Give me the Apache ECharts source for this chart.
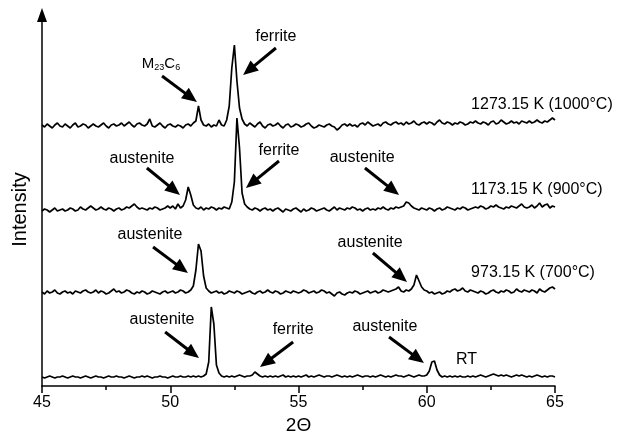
<!DOCTYPE html>
<html>
<head>
<meta charset="utf-8">
<script src="https://cdn.jsdelivr.net/npm/echarts@6/dist/echarts.min.js"></script>
<style>
html,body{margin:0;padding:0;background:#fff;}
#c{width:620px;height:440px;}
</style>
</head>
<body>
<div id="c"></div>
<script>
// 2θ sampling positions: 45.0 ... 65.0 in 0.1° steps
const twoTheta = [];
for (let i = 0; i <= 200; i++) twoTheta.push(+(45 + i * 0.1).toFixed(1));

const xTicks = [45, 50, 55, 60, 65];

// Intensities (arbitrary units, already vertically offset as plotted)
const int1273 = [
 261,259,262,260,258,261,263,260,259,262,
 260,258,261,263,259,260,262,261,258,260,
 262,260,259,261,263,260,258,261,262,260,
 261,263,260,262,264,261,259,262,263,261,
 260,262,267,260,259,261,263,260,258,261,
 262,260,259,261,260,258,261,262,260,263,
 265,280,266,261,260,262,259,261,260,266,
 261,260,266,280,318,341,305,278,267,262,
 260,263,261,259,262,264,260,258,261,262,
 260,261,263,260,258,261,262,259,260,262,
 261,259,260,262,263,260,258,259,261,260,
 259,261,262,260,259,256,258,261,262,260,
 262,260,261,259,262,263,261,264,262,260,
 261,262,260,263,264,262,261,263,264,262,
 263,261,264,262,263,265,262,261,263,264,
 262,264,263,261,264,266,263,262,264,263,
 261,263,262,264,263,261,262,264,263,265,
 263,262,264,263,261,264,265,262,263,266,
 264,262,263,265,263,264,262,265,264,263,
 265,263,264,266,264,263,265,264,266,268,
 266];

const int1173 = [
 175,177,176,174,176,178,175,176,177,175,
 176,178,177,175,176,179,177,176,178,180,
 178,176,177,179,177,176,178,177,175,177,
 178,176,177,179,178,180,182,179,177,178,
 177,176,178,177,179,178,176,177,178,180,
 178,180,177,182,178,180,186,199,191,181,
 178,177,179,176,178,177,179,178,176,178,
 177,179,178,177,184,204,268,238,193,182,
 179,177,176,178,177,175,177,178,176,177,
 175,177,178,176,174,177,176,175,177,178,
 176,174,177,175,176,178,177,175,176,177,
 178,176,175,177,179,176,178,177,176,178,
 177,179,178,176,177,175,177,178,176,177,
 176,178,177,179,177,176,178,177,179,178,
 179,180,184,183,180,178,177,176,178,177,
 176,178,177,175,177,178,176,177,179,178,
 177,176,178,177,179,178,176,177,178,179,
 178,180,179,177,178,180,179,181,179,178,
 177,179,178,180,179,178,180,182,179,178,
 179,181,178,180,183,179,181,182,178,180,
 179];

const int973 = [
 94,92,95,93,94,96,93,92,94,95,
 93,94,92,95,94,93,95,96,94,93,
 94,96,93,95,94,92,93,95,97,94,
 95,93,94,96,95,93,92,94,93,95,
 94,92,93,95,94,93,92,94,95,93,
 94,95,93,94,96,95,93,94,96,100,
 116,142,135,110,98,95,93,94,95,93,
 94,92,93,95,94,93,95,94,92,93,
 94,95,93,92,94,95,93,94,96,94,
 93,95,94,92,93,95,94,93,95,94,
 93,94,96,95,93,94,95,93,94,96,
 95,93,94,92,90,93,94,92,91,93,
 94,93,95,94,92,93,94,95,93,94,
 95,93,94,96,95,94,95,96,97,99,
 95,94,96,95,97,101,111,105,99,96,
 95,93,94,92,93,94,92,93,95,94,
 96,97,95,96,98,95,94,96,95,94,
 93,95,94,92,93,95,96,94,93,95,
 94,96,95,93,94,97,95,94,96,95,
 94,96,95,93,97,95,94,96,98,99,
 97];

const intRT = [
 9,8,9,10,9,8,9,9,10,9,
 8,9,10,9,9,8,9,10,9,8,
 9,10,9,9,8,9,10,9,9,10,
 9,9,8,9,10,9,8,9,9,10,
 9,10,9,8,9,9,10,9,9,8,
 9,10,9,9,10,9,9,10,9,10,
 9,10,9,10,12,24,79,62,21,13,
 10,9,10,9,10,9,10,11,10,9,
 10,10,11,14,12,10,9,10,9,10,
 9,10,9,10,11,9,10,9,10,9,
 10,9,10,11,9,10,9,10,11,10,
 9,10,10,9,10,11,10,9,10,9,
 10,9,10,11,10,9,10,10,9,10,
 9,10,11,10,9,10,9,10,11,10,
 10,9,10,11,10,9,10,11,10,10,
 11,15,24,25,16,11,9,10,9,10,
 9,10,9,10,9,9,10,9,10,9,
 10,11,10,9,10,11,12,11,10,11,
 10,11,10,9,10,11,10,11,10,9,
 10,9,10,11,10,9,10,9,10,10,
 9];

const seriesNames = ['1273.15 K (1000°C)', '1173.15 K (900°C)', '973.15 K (700°C)', 'RT'];
const seriesValues = [int1273, int1173, int973, intRT];
// label anchor in data coords (2θ, intensity)
const seriesLabelPos = [[61.73, 281], [61.73, 196], [61.73, 113], [61.14, 26]];

// annotations: text, text centre, arrow start, arrow end (data coords)
const annText = ['ferrite', 'M23C6', 'austenite', 'ferrite', 'austenite', 'austenite', 'austenite', 'austenite', 'ferrite', 'austenite'];
const annTextPos = [[54.12,349],[49.64,321],[48.90,227],[54.24,235],[57.48,228],[49.21,151],[57.79,143],[49.68,66],[54.79,56],[58.37,59]];
const annFrom = [[54.12,338],[49.68,310],[49.09,218],[54.24,225],[57.59,218],[49.33,139],[57.90,133],[49.80,54],[54.79,44],[58.53,49]];
const annTo = [[52.84,311],[51.04,284],[50.38,191],[52.95,198],[58.92,191],[50.69,113],[59.23,104],[51.12,28],[53.50,19],[59.89,23]];

const FONT = '"Liberation Sans", Arial, Helvetica, sans-serif';

const chart = echarts.init(document.getElementById('c'), null, {renderer: 'canvas'});

const series = seriesValues.map((vals, k) => ({
  type: 'line',
  name: seriesNames[k],
  data: vals.map((v, i) => [twoTheta[i], v]),
  showSymbol: false,
  symbol: 'none',
  lineStyle: {color: '#000', width: 1.7},
  animation: false,
  silent: true
}));

chart.setOption({
  animation: false,
  backgroundColor: '#fff',
  grid: {left: 42, right: 65, top: 15, bottom: 54},
  xAxis: {
    type: 'value', min: 45, max: 65, interval: 5,
    name: '2Θ', nameLocation: 'middle', nameGap: 27,
    nameTextStyle: {fontFamily: FONT, fontSize: 19, color: '#000'},
    axisLine: {lineStyle: {color: '#000', width: 1.5}},
    axisTick: {show: true, inside: false, length: 7, lineStyle: {color: '#000', width: 1.5}},
    minorTick: {show: true, splitNumber: 2, length: 4, lineStyle: {color: '#000', width: 1.5}},
    axisLabel: {fontFamily: FONT, fontSize: 16, color: '#000', margin: 9,
      formatter: v => xTicks.includes(v) ? String(v) : ''},
    splitLine: {show: false}
  },
  yAxis: {
    type: 'value', min: 0, max: 371,
    name: 'Intensity', nameLocation: 'middle', nameGap: 12,
    nameTextStyle: {fontFamily: FONT, fontSize: 20, color: '#000', padding: [0, 18, 0, 0]},
    axisLine: {show: true, lineStyle: {color: '#000', width: 1.5}, symbol: ['none', 'triangle'], symbolSize: [10, 14]},
    axisTick: {show: false},
    axisLabel: {show: false},
    splitLine: {show: false}
  },
  series: series
});

function px(p) { return chart.convertToPixel({gridIndex: 0}, p); }

const graphics = [];
seriesNames.forEach((nm, k) => {
  const p = px(seriesLabelPos[k]);
  graphics.push({type: 'text', x: p[0], y: p[1], silent: true,
    style: {text: nm, fill: '#000', font: '16px ' + FONT, textAlign: 'left', textVerticalAlign: 'middle'}});
});

// pieces of a chemical formula with subscripts: [text, isSubscript]
const formulaParts = {'M23C6': [['M', false], ['23', true], ['C', false], ['6', true]]};

annText.forEach((t, k) => {
  const p = px(annTextPos[k]);
  if (formulaParts[t]) {
    const parts = formulaParts[t];
    const widths = parts.map(([s, sub]) => echarts.format.getTextRect
      ? echarts.format.getTextRect(s, (sub ? '9px ' : '15px ') + FONT).width
      : s.length * (sub ? 5 : 11));
    const total = widths.reduce((a, b) => a + b, 0);
    let x0 = p[0] - total / 2;
    parts.forEach(([s, sub], j) => {
      graphics.push({type: 'text', x: x0, y: sub ? p[1] + 7 : p[1] + 6, silent: true,
        style: {text: s, fill: '#000', font: (sub ? '9px ' : '15px ') + FONT, textAlign: 'left', textVerticalAlign: 'bottom'}});
      x0 += widths[j];
    });
  } else {
    graphics.push({type: 'text', x: p[0], y: p[1], silent: true,
      style: {text: t, fill: '#000', font: '16px ' + FONT, textAlign: 'center', textVerticalAlign: 'middle'}});
  }
  const a = px(annFrom[k]), b = px(annTo[k]);
  const dx = b[0] - a[0], dy = b[1] - a[1];
  const L = Math.sqrt(dx * dx + dy * dy);
  const ux = dx / L, uy = dy / L;
  const headL = 15, headW = 13;
  const bx = b[0] - ux * headL, by = b[1] - uy * headL;
  graphics.push({type: 'line', silent: true,
    shape: {x1: a[0], y1: a[1], x2: bx + ux * 1, y2: by + uy * 1},
    style: {stroke: '#000', lineWidth: 3}});
  graphics.push({type: 'polygon', silent: true,
    shape: {points: [[b[0], b[1]], [bx - uy * headW / 2, by + ux * headW / 2], [bx + uy * headW / 2, by - ux * headW / 2]]},
    style: {fill: '#000'}});
});

chart.setOption({graphic: graphics});
</script>
</body>
</html>
